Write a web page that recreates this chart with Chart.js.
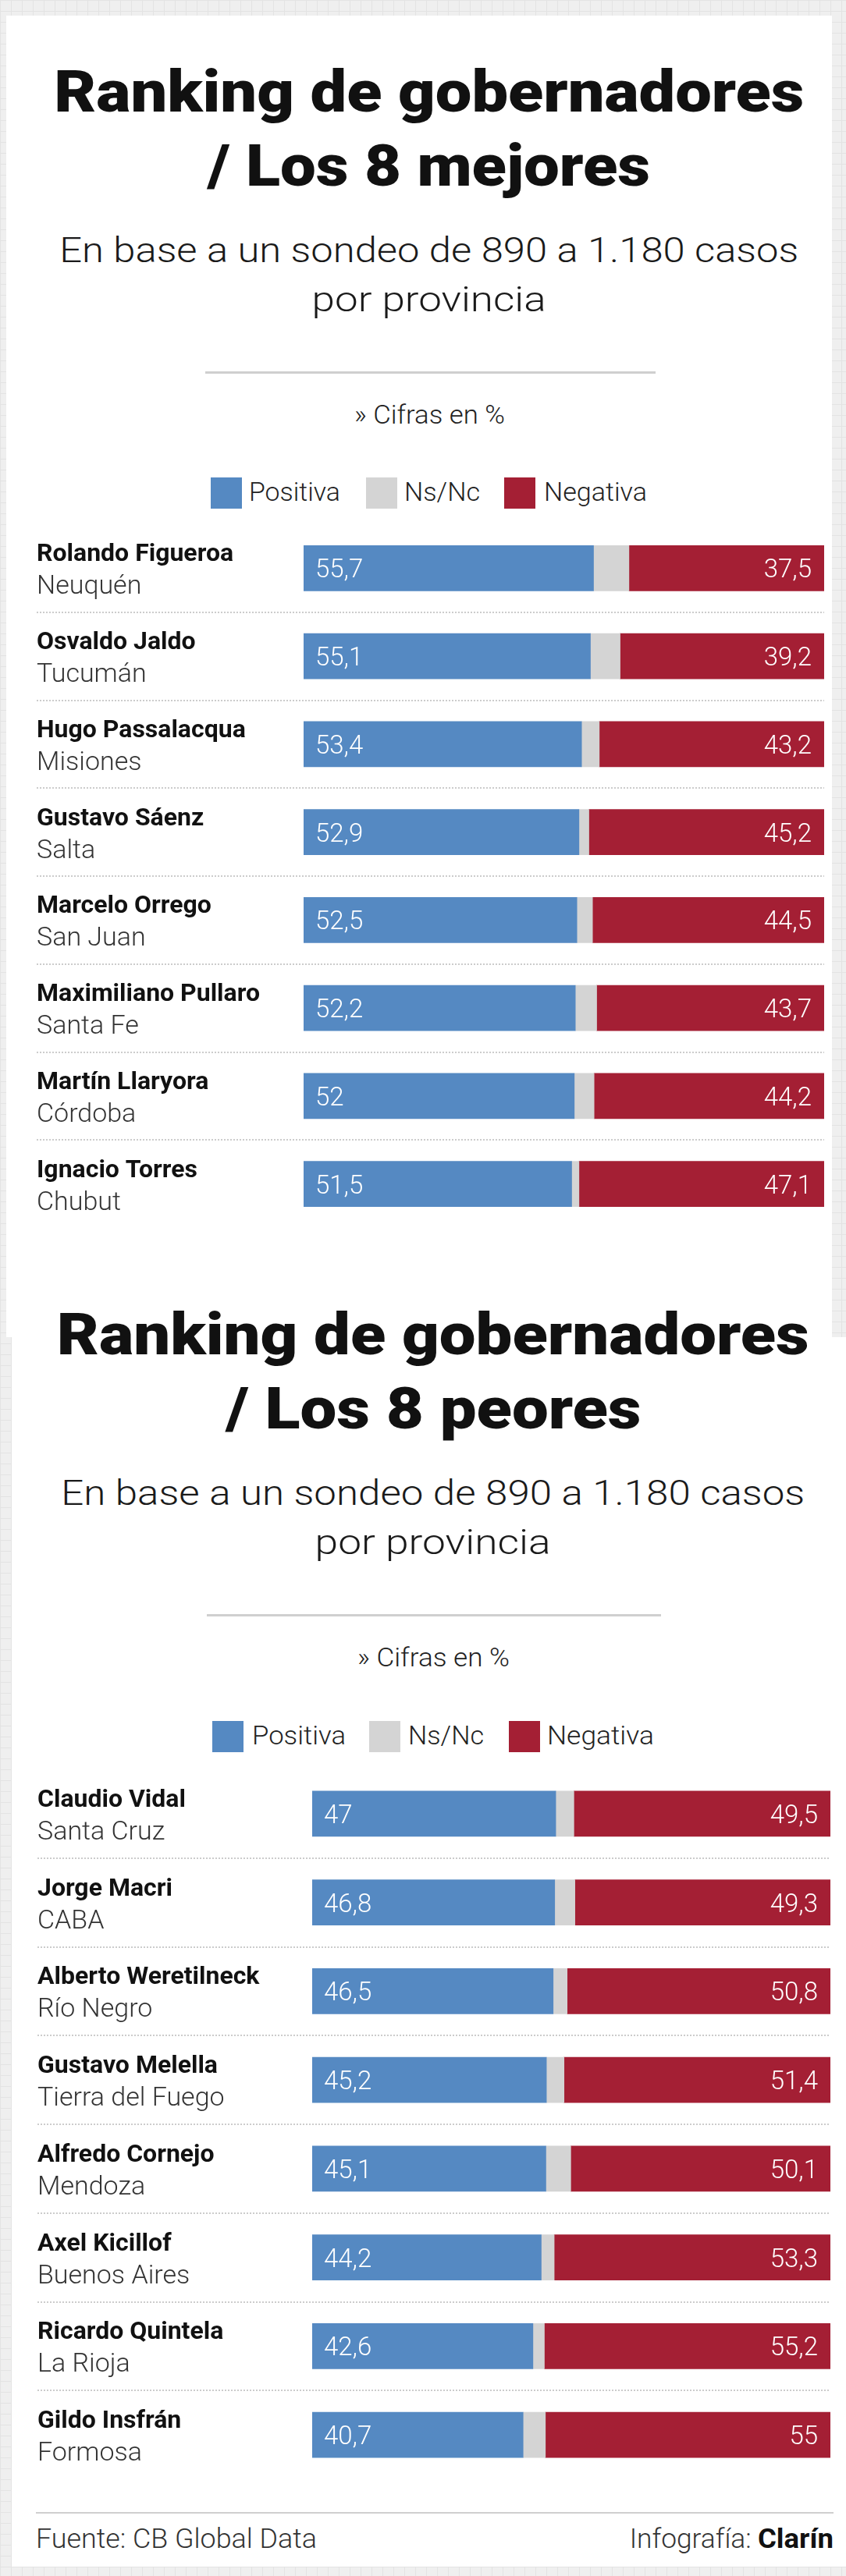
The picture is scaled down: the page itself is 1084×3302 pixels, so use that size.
<!DOCTYPE html>
<html>
<head>
<meta charset="utf-8">
<script src="https://cdn.jsdelivr.net/npm/chart.js@4.4.1/dist/chart.umd.min.js"></script>
<style>
html, body { margin: 0; padding: 0; }
body {
  width: 1084px; height: 3302px; position: relative; overflow: hidden;
  background-color: #efefef;
  background-image: linear-gradient(#e3e3e3 1px, transparent 1px), linear-gradient(90deg, #e3e3e3 1px, transparent 1px);
  background-size: 14px 14px;
}
.card { position: absolute; background: #fff; }
.t { position: absolute; white-space: pre; margin: 0; }
.sq { position: absolute; }
.rule { position: absolute; background: #cfcfcf; }
canvas { position: absolute; left: 0; }
</style>
</head>
<body>
<div class="card" style="left:8px;top:20px;width:1058px;height:1694px"></div>
<div class="card" style="left:15px;top:1714px;width:1069px;height:1576px"></div>
<canvas id="best" width="1084" height="902" style="top:672px"></canvas>
<canvas id="worst" width="1084" height="910" style="top:2268px"></canvas>
<script>
// los 8 mejores
const bestNames = ['Rolando Figueroa', 'Osvaldo Jaldo', 'Hugo Passalacqua', 'Gustavo Sáenz', 'Marcelo Orrego', 'Maximiliano Pullaro', 'Martín Llaryora', 'Ignacio Torres'];
const bestProvinces = ['Neuquén', 'Tucumán', 'Misiones', 'Salta', 'San Juan', 'Santa Fe', 'Córdoba', 'Chubut'];
const bestPositive = [55.7, 55.1, 53.4, 52.9, 52.5, 52.2, 52, 51.5];
const bestNsNc = [6.8, 5.7, 3.4, 1.9, 3.0, 4.1, 3.8, 1.4];
const bestNegative = [37.5, 39.2, 43.2, 45.2, 44.5, 43.7, 44.2, 47.1];

// los 8 peores
const worstNames = ['Claudio Vidal', 'Jorge Macri', 'Alberto Weretilneck', 'Gustavo Melella', 'Alfredo Cornejo', 'Axel Kicillof', 'Ricardo Quintela', 'Gildo Insfrán'];
const worstProvinces = ['Santa Cruz', 'CABA', 'Río Negro', 'Tierra del Fuego', 'Mendoza', 'Buenos Aires', 'La Rioja', 'Formosa'];
const worstPositive = [47, 46.8, 46.5, 45.2, 45.1, 44.2, 42.6, 40.7];
const worstNsNc = [3.5, 3.9, 2.7, 3.4, 4.8, 2.5, 2.2, 4.3];
const worstNegative = [49.5, 49.3, 50.8, 51.4, 50.1, 53.3, 55.2, 55];

const seriesLabels = ['Positiva', 'Ns/Nc', 'Negativa'];
const seriesColors = ['#5589c2', '#d4d4d4', '#a41f34'];

const meas = document.createElement('canvas').getContext('2d');

// place a text by its baseline, optionally squeezed to a given width
function text(str, o) {
  const font = (o.weight || 400) + ' ' + o.size + 'px ' + (o.family || 'Roboto');
  meas.font = font;
  const m = meas.measureText(str);
  const A = m.fontBoundingBoxAscent, D = m.fontBoundingBoxDescent;
  const sx = o.w ? o.w / m.width : 1;
  const el = document.createElement('div');
  el.className = 't';
  el.textContent = str;
  el.style.font = font;
  el.style.lineHeight = (A + D) + 'px';
  el.style.color = o.color || '#111';
  el.style.top = (o.base - A) + 'px';
  let left = o.x;
  if (o.align === 'center') left = o.x - m.width / 2;
  else if (o.align === 'right') left = o.x - m.width;
  el.style.left = left + 'px';
  el.style.transformOrigin = o.align === 'center' ? '50% 0' : (o.align === 'right' ? '100% 0' : '0 0');
  el.style.transform = 'scaleX(' + sx + ')';
  document.body.appendChild(el);
}

function box(cls, x, y, w, h, color) {
  const el = document.createElement('div');
  el.className = cls;
  el.style.left = x + 'px'; el.style.top = y + 'px';
  el.style.width = w + 'px'; el.style.height = h + 'px';
  if (color) el.style.background = color;
  document.body.appendChild(el);
}

function header(t2, h) {
  text('Ranking de gobernadores', { weight: 900, size: 74, x: h.cx, align: 'center', base: h.y, w: h.w1 });
  text(t2, { weight: 900, size: 74, x: h.cx, align: 'center', base: h.y + 95, w: h.w2 });
  text('En base a un sondeo de 890 a 1.180 casos', { weight: 300, size: 44, x: h.cx, align: 'center', base: h.y + 193, w: h.w3, color: '#1a1a1a' });
  text('por provincia', { weight: 300, size: 44, x: h.cx, align: 'center', base: h.y + 256, w: h.w4, color: '#1a1a1a' });
  box('rule', h.rx, h.y + 333, h.rw, 3);
  text('» Cifras en %', { weight: 300, size: 34, x: h.cx, align: 'center', base: h.y + 400, w: h.w5, color: '#222' });
  const ly = h.ly;
  seriesLabels.forEach((lab, i) => {
    box('sq', h.sq[i], ly, 40, 40, seriesColors[i]);
    text(lab, { weight: 300, size: 33, x: h.lt[i], base: ly + 30, w: h.lw[i], color: '#222' });
  });
}

header('/ Los 8 mejores', { cx: 550, y: 143, w1: 961, w2: 567, w3: 947, w4: 300, w5: 193, rx: 263, rw: 577,
  ly: 612, sq: [270, 469, 646], lt: [319, 518, 697], lw: [117, 97, 132] });
header('/ Los 8 peores', { cx: 555, y: 1736, w1: 964, w2: 532, w3: 953, w4: 302, w5: 195, rx: 265, rw: 582,
  ly: 2206, sq: [272, 473, 652], lt: [323, 523, 701], lw: [120, 97, 137] });

// footer
box('rule', 46, 3220, 1022, 2);
text('Fuente: CB Global Data', { weight: 300, size: 35, x: 46, base: 3266, w: 360, color: '#333' });
text('Clarín', { weight: 700, size: 35, x: 1068, align: 'right', base: 3266, w: 97, color: '#111' });
text('Infografía:', { weight: 300, size: 35, x: 963, align: 'right', base: 3266, w: 156, color: '#333' });

const fmt = v => String(v).replace('.', ',');

function makeChart(id, names, provinces, positive, nsnc, negative, barLeft, barRight, textLeft) {
  const canvas = document.getElementById(id);
  const rowText = {
    id: 'rowText',
    beforeDatasetsDraw(chart) {
      const { ctx, chartArea, scales: { y } } = chart;
      ctx.save();
      ctx.strokeStyle = '#cccccc';
      ctx.lineWidth = 2;
      ctx.setLineDash([2, 2]);
      for (let i = 0; i < names.length - 1; i++) {
        const yy = Math.round((y.getPixelForValue(i) + y.getPixelForValue(i + 1)) / 2);
        ctx.beginPath();
        ctx.moveTo(textLeft, yy);
        ctx.lineTo(chartArea.right, yy);
        ctx.stroke();
      }
      ctx.setLineDash([]);
      ctx.textAlign = 'left';
      names.forEach((n, i) => {
        const c = y.getPixelForValue(i);
        ctx.fillStyle = '#111';
        ctx.font = 'bold 32px Roboto';
        ctx.fillText(n, textLeft, c - 9);
        ctx.fillStyle = '#333';
        ctx.font = '300 34px Roboto';
        ctx.fillText(provinces[i], textLeft, c + 33);
      });
      ctx.restore();
    },
    afterDatasetsDraw(chart) {
      const ctx = chart.ctx;
      ctx.save();
      ctx.fillStyle = '#fff';
      ctx.font = '300 33px Roboto';
      chart.getDatasetMeta(0).data.forEach((bar, i) => {
        ctx.textAlign = 'left';
        ctx.fillText(fmt(positive[i]), bar.base + 15, bar.y + 12);
      });
      chart.getDatasetMeta(2).data.forEach((bar, i) => {
        ctx.textAlign = 'right';
        ctx.fillText(fmt(negative[i]), bar.x - 16, bar.y + 12);
      });
      ctx.restore();
    }
  };
  return new Chart(canvas, {
    type: 'bar',
    data: {
      labels: names,
      datasets: [positive, nsnc, negative].map((d, i) => ({
        label: seriesLabels[i],
        data: d,
        backgroundColor: seriesColors[i],
        borderWidth: 0,
        barThickness: 58
      }))
    },
    options: {
      indexAxis: 'y',
      responsive: false,
      animation: false,
      devicePixelRatio: 1,
      layout: { padding: { left: barLeft, right: 1084 - barRight, top: 0, bottom: 0 } },
      scales: {
        x: { stacked: true, min: 0, max: 100, display: false },
        y: { stacked: true, display: false }
      },
      plugins: { legend: { display: false }, tooltip: { enabled: false } }
    },
    plugins: [rowText]
  });
}

makeChart('best', bestNames, bestProvinces, bestPositive, bestNsNc, bestNegative, 389, 1056, 47);
makeChart('worst', worstNames, worstProvinces, worstPositive, worstNsNc, worstNegative, 400, 1064, 48);
</script>
</body>
</html>
